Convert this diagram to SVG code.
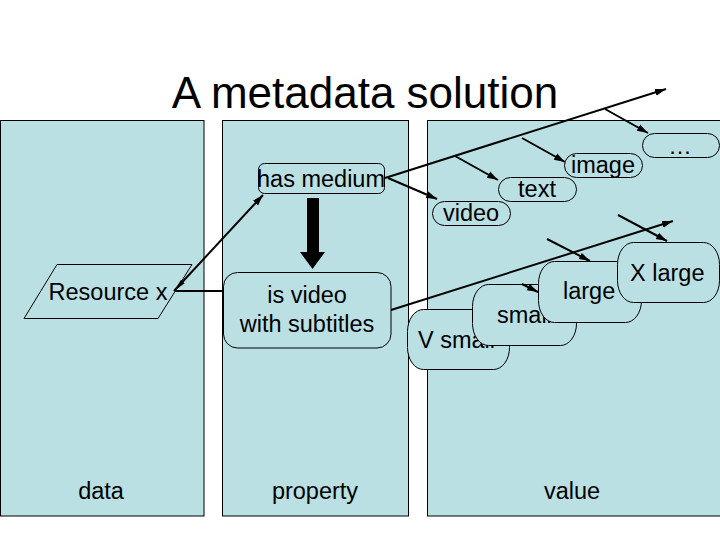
<svg xmlns="http://www.w3.org/2000/svg" width="720" height="540" viewBox="0 0 720 540">
<defs>
<style>
.panel{fill:#BBE0E3;stroke:#000;stroke-width:1}
.box{fill:#BBE0E3;stroke:#000;stroke-width:1}
text{font-family:"Liberation Sans",Arial,sans-serif;fill:#000}
.t{font-size:23.5px}
.mid{text-anchor:middle}
.c{fill:none;stroke:#000;stroke-width:2}
</style>
<marker id="ah" markerUnits="userSpaceOnUse" markerWidth="12" markerHeight="10" refX="11" refY="4" orient="auto">
<path d="M0,0.5 L11,4 L0,7.5 Z" fill="#000"/>
</marker>
<marker id="ahs" markerUnits="userSpaceOnUse" markerWidth="14" markerHeight="8" refX="13" refY="3" orient="auto-start-reverse">
<path d="M0,0.5 L13,3 L0,5.5 Z" fill="#000"/>
</marker>
</defs>
<rect width="720" height="540" fill="#fff"/>
<text x="365" y="108" class="mid" style="font-size:44px">A metadata solution</text>

<g id="panel-data"><rect class="panel" x="0.5" y="120.5" width="203.5" height="395.5"/><text x="101" y="499" class="t mid">data</text></g>
<g id="panel-property"><rect class="panel" x="222.5" y="120.5" width="186" height="395.5"/><text x="315" y="499" class="t mid">property</text></g>
<g id="panel-value"><rect class="panel" x="427.5" y="120.5" width="300" height="395.5"/><text x="572" y="499" class="t mid">value</text></g>

<g id="node-resource"><polygon class="box" points="57,264.5 192,264.5 158,318.5 24,318.5"/><text x="108" y="300" class="t mid">Resource x</text></g>
<g id="node-has-medium"><rect class="box" x="258.5" y="163.5" width="126" height="30" rx="6"/><text x="321" y="187" class="t mid">has medium</text></g>
<g id="node-subtitles"><rect class="box" x="223.5" y="272.5" width="167.5" height="75.5" rx="14"/><text x="307" y="303" class="t mid">is video</text><text x="307" y="332" class="t mid">with subtitles</text></g>

<g id="node-video"><rect class="box" x="432.5" y="201.5" width="78" height="24" rx="12"/><text x="471" y="221" class="t mid">video</text></g>
<g id="node-text"><rect class="box" x="498.5" y="177.5" width="78" height="24" rx="12"/><text x="537" y="197" class="t mid">text</text></g>
<g id="node-image"><rect class="box" x="564.5" y="153.5" width="78" height="24" rx="12"/><text x="603" y="173" class="t mid">image</text></g>
<g id="node-more"><rect class="box" x="642.5" y="133.5" width="77" height="24" rx="12"/><text x="680" y="154" class="t mid">…</text></g>

<g id="node-vsmall"><rect class="box" x="407.5" y="309.5" width="102" height="60" rx="16" ry="22"/><text x="418" y="348" class="t">V small</text></g>
<g id="node-small"><rect class="box" x="472.5" y="284.5" width="104" height="61" rx="16" ry="22"/><text x="497" y="323" class="t">small</text></g>
<g id="node-large"><rect class="box" x="538.5" y="261.5" width="103" height="61" rx="16" ry="22"/><text x="563" y="299" class="t">large</text></g>
<g id="node-xlarge"><rect class="box" x="617.5" y="242.5" width="102" height="60" rx="16" ry="22"/><text x="630" y="281" class="t">X large</text></g>

<g id="connectors">
<line class="c" x1="174" y1="291" x2="263" y2="195" marker-start="url(#ahs)" marker-end="url(#ah)"/>
<line class="c" x1="175" y1="291" x2="223" y2="291"/>
<polygon points="307,198 319,198 319,252 325,252 312.5,269 300,252 307,252" fill="#000"/>
<line class="c" x1="385" y1="178" x2="666" y2="89" marker-end="url(#ah)"/>
<line class="c" x1="388" y1="178" x2="437" y2="199" marker-end="url(#ah)"/>
<line class="c" x1="455" y1="156" x2="498" y2="180" marker-end="url(#ah)"/>
<line class="c" x1="522" y1="138" x2="565" y2="162" marker-end="url(#ah)"/>
<line class="c" x1="605" y1="109" x2="648" y2="133" marker-end="url(#ah)"/>
<line class="c" x1="391" y1="310" x2="673" y2="221" marker-end="url(#ah)"/>
<line class="c" x1="522" y1="284" x2="538" y2="292" marker-end="url(#ah)"/>
<line class="c" x1="547" y1="239" x2="590" y2="261" marker-end="url(#ah)"/>
<line class="c" x1="618" y1="215" x2="667" y2="241" marker-end="url(#ah)"/>
</g>
</svg>
